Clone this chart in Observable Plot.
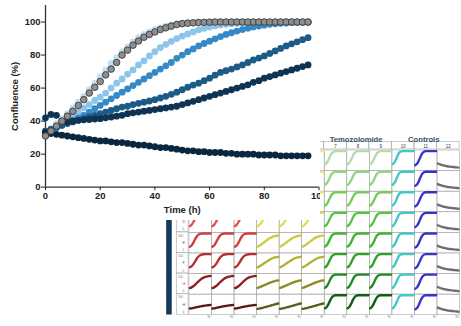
<!DOCTYPE html>
<html>
<head>
<meta charset="utf-8">
<script src="https://cdn.jsdelivr.net/npm/d3@7"></script>
<script src="https://cdn.jsdelivr.net/npm/@observablehq/plot@0.6"></script>
<style>
  html, body { margin: 0; padding: 0; background: #fff; width: 461px; height: 326px; overflow: hidden; position: relative; }
  #inset { position: absolute; left: 160px; top: 125px; z-index: 1; }
  #main { position: absolute; left: 0; top: 0; width: 320px; height: 220px; overflow: hidden; background: #fff; z-index: 2; }
</style>
</head>
<body>
<div id="inset"></div>
<div id="main"></div>
<script>
// ---------------- Main chart data ----------------
const times = [0,2,4,6,8,10,12,14,16,18,20,22,24,26,28,30,32,34,36,38,40,42,44,46,48,50,52,54,56,58,60,62,64,66,68,70,72,74,76,78,80,82,84,86,88,90,92,94,96];

const seriesLightest = [33,35.5,38.5,41.5,44.5,48,51.5,55,59,63,67,71,75,78.5,82,85,88,90.5,92.5,94,95.5,96.5,97.5,98.2,98.8,99.2,99.4,99.6,99.7,99.8,99.8,99.9,99.9,99.9,100,100,100,100,100,100,100,100,100,100,100,100,100,100,100];
const seriesLight = [33,34.5,36,38,40.5,43,45.5,48,50,52.5,54.5,57,60,63,65.5,68.5,71,74,76.5,79.5,82,84.5,86.5,88.3,90,91.5,92.8,94,95.3,96.2,97,97.7,98.2,98.6,99,99.2,99.4,99.5,99.6,99.7,99.8,99.8,99.9,99.9,100,100,100,100,100];
const seriesMedium = [34,35,36,37.5,39,40.5,42,43.5,45.5,47.5,49.5,51.5,53.5,55.5,57.5,59.5,61.5,63.5,65.5,67.5,69.5,71.5,73.5,75.5,78,80,82,83.7,85.5,87,88.4,89.8,91.2,92.5,93.5,94.5,95.4,96.3,97,97.6,98.1,98.6,98.9,99.2,99.4,99.6,99.7,99.8,99.9];
const seriesDark = [34,35,36.5,37.5,38.5,39.5,40.5,41.5,42.5,43.5,44.5,45.5,46.5,47.5,48.5,49,50,50.8,51.5,52.2,53,54,55,56.2,57.5,59,60.5,61.8,63,64.5,66,67.8,69.5,70.5,71.5,72.8,74,75.5,77,78.2,79.5,81,82.5,84,85.5,86.8,88,89.3,90.5];
const seriesNavy = [42,44,43.5,40,39.5,40,40.5,40.8,41,41.3,41.5,42,42.5,43,43.5,44.5,45,45.5,46,46.5,47,47.5,48,48.5,49,50,51,52,53,54,55,56,57,58,59,60,61,62,63.5,64.5,66,67,68,69,70,71,72,73,74];
const seriesDarkest = [33,32.5,32,31.5,31,30.5,30,29.5,29,28.5,28,28,27.5,27,27,26.5,26,25.5,25.5,25,24.5,24,24,23.5,23,22.5,22,22,21.5,21.5,21,21,21,20.5,20.5,20,20,20,20,19.5,19.5,19.5,19.5,19,19,19,19,19,19];
const seriesControl = [31,34,37,40,43,46,49.5,53,57,60.5,64,68,71.5,75.5,80,83,86,88.5,90.8,92.5,94,95.5,96.5,97.5,98.5,99,99.3,99.5,99.7,99.8,99.9,100,100,100,100,100,100,100,100,100,100,100,100,100,100,100,100,100,100];

const blueSeries = [seriesLightest, seriesLight, seriesMedium, seriesDark, seriesNavy, seriesDarkest];
const blueColors = ["#c3e0f4", "#8cc4ea", "#3489c6", "#1c5a88", "#0f3352", "#0b2740"];

const xTicks = [0, 20, 40, 60, 80, 100];
const yTicks = [0, 20, 40, 60, 80, 100];

// ---------------- Inset plate data ----------------
const plateCols = [1,2,3,4,5,6,7,8,9,10,11,12];
const plateRows = ["A","B","C","D","E","F","G","H"];
const labelRows = ["D","E","F","G","H"];
const topLabelRows = ["E","F","G","H"];
const wellTimes = [0,8,16,24,32,40,48,56,64,72,80,88,96];

const shapeGreen   = [30,38,54,74,90,97,100,100,100,100,100,100,100];
const shapeCyan    = [30,40,58,80,95,99,100,100,100,100,100,100,100];
const shapeBlue    = [25,32,48,70,88,97,100,100,100,100,100,100,100];
const shapeRedFast = [29,36,50,68,84,94,98,100,100,100,100,100,100];
const shapeRedF    = [29,34,45,60,75,87,94,97,99,100,100,100,100];
const shapeRedG    = [28,32,38,46,55,64,72,79,84,88,90,92,93];
const shapeRedH    = [29,30,32,34,36,38,40,42,43,45,46,47,48];
const shapeYelD    = [29,35,45,58,71,82,90,95,98,100,100,100,100];
const shapeYelE    = [29,34,40,47,54,61,68,74,79,83,86,88,88];
const shapeYelF    = [29,33,39,45,52,58,64,70,75,79,82,84,85];
const shapeYelG    = [29,32,36,40,44,48,52,56,60,63,66,68,69];
const shapeYelH    = [27,29,31,33,36,38,41,43,46,49,51,54,56];
const shapeGray    = [34,30,27,24,22,20,18,17,16,15,14,13,12];

const colGroup = ["red","red","red","yellow","yellow","yellow","green","green","green","cyan","blue","gray"];
const redColors    = ["#f29a9a","#ee8282","#e86a6a","#e05252","#d03c3c","#b52e2e","#8e2222","#5c1616"];
const yellowColors = ["#eeee9a","#eaea80","#e6e666","#dede52","#cccc3e","#b2b232","#8c8c26","#5c5c18"];
const greenColors  = ["#b4dcaa","#92d67e","#72ce58","#56c63e","#40b630","#2ea22a","#1e8a20","#105e14"];
const redShapes    = [shapeRedFast,shapeRedFast,shapeRedFast,shapeRedFast,shapeRedFast,shapeRedF,shapeRedG,shapeRedH];
const yellowShapes = [shapeYelD,shapeYelD,shapeYelD,shapeYelD,shapeYelE,shapeYelF,shapeYelG,shapeYelH];

const groupLabels = ["Temozolomide", "Controls"];
const groupLabelCols = [8, 11];
const barRows = ["D","E","F","G","H"];

// ---------------- Build main chart ----------------
const blueData = blueSeries.flatMap((vals, i) => vals.map((v, j) => ({t: times[j], v, color: blueColors[i]})));
const controlData = seriesControl.map((v, j) => ({t: times[j], v}));

const main = Plot.plot({
  width: 320, height: 220,
  marginLeft: 45, marginRight: 1.5, marginTop: 5, marginBottom: 33.3,
  style: {fontFamily: "Liberation Sans, Arial, sans-serif", fontSize: "9.5px", fontWeight: "bold", color: "#222", background: "white"},
  x: {domain: [0, 100]},
  y: {domain: [0, 110]},
  marks: [
    Plot.ruleX([0], {stroke: "#333", strokeWidth: 1.3}),
    Plot.ruleY([0], {stroke: "#333", strokeWidth: 1.3}),
    Plot.axisY({ticks: yTicks, tickSize: 4, tickPadding: 1, label: "Confluence (%)", labelAnchor: "center", labelArrow: "none", labelOffset: 34, fontWeight: "bold"}),
    Plot.axisX({ticks: xTicks, tickSize: 3.5, tickPadding: 2, label: "Time (h)", labelAnchor: "center", labelArrow: "none", labelOffset: 26, fontWeight: "bold"}),
    Plot.dot(blueData, {x: "t", y: "v", fill: "color", r: 3.4}),
    Plot.dot(controlData, {x: "t", y: "v", fill: "#8e8e8e", stroke: "#3a3a3a", strokeWidth: 0.9, r: 3.3})
  ]
});
document.getElementById("main").appendChild(main);

// ---------------- Build inset plate ----------------
const wells = [];
plateCols.forEach((c, ci) => {
  plateRows.forEach((r, ri) => {
    const g = colGroup[ci];
    let shape, color;
    if (g === "red") { shape = redShapes[ri]; color = redColors[ri]; }
    else if (g === "yellow") { shape = yellowShapes[ri]; color = yellowColors[ri]; }
    else if (g === "green") { shape = shapeGreen; color = greenColors[ri]; }
    else if (g === "cyan") { shape = shapeCyan; color = "#3ec8c8"; }
    else if (g === "blue") { shape = shapeBlue; color = "#3434c8"; }
    else { shape = shapeGray; color = "#6e6e6e"; }
    shape.forEach((v, k) => wells.push({col: c, row: r, well: r + c, t: wellTimes[k], v, color}));
  });
});

const gridStroke = "#a8a8a8";
const inset = Plot.plot({
  width: 307, height: 201,
  marginLeft: 26.7, marginRight: 0, marginTop: 22.3, marginBottom: 6,
  style: {fontFamily: "Liberation Sans, Arial, sans-serif", fontSize: "4.5px", color: "#333", background: "transparent"},
  fx: {domain: plateCols, padding: 0, axis: "top", label: null, tickSize: 0, tickPadding: 2},
  fy: {domain: plateRows, padding: 0, axis: null},
  x: {domain: [-4, 100], axis: null},
  y: {domain: [-4, 106], axis: null},
  marks: [
    Plot.frame({stroke: gridStroke, strokeWidth: 0.6}),
    // header boxes above row A
    Plot.rect(plateCols, {fx: d => d, fy: () => "A", x1: -4, x2: 100, y1: -4, y2: 106, insetTop: -8.3, insetBottom: 21.59, fill: "none", stroke: gridStroke, strokeWidth: 0.6}),
    // row-label column boxes
    Plot.rect(plateRows, {fx: () => 1, fy: d => d, x1: -4, x2: 100, y1: -4, y2: 106, insetLeft: -12.4, insetRight: 23.35, fill: "none", stroke: gridStroke, strokeWidth: 0.6}),
    // dark bar
    Plot.rect(barRows, {fx: () => 1, fy: d => d, x1: -4, x2: 100, y1: -4, y2: 106, insetLeft: -22.7, insetRight: 40.05, insetTop: -0.3, insetBottom: -0.3, fill: "#15395a"}),
    Plot.text(labelRows, {fx: () => 1, fy: d => d, text: d => d, frameAnchor: "left", dx: -6.5, fontSize: 3.8, fill: "#555"}),
    Plot.text(topLabelRows, {fx: () => 1, fy: d => d, text: () => "100", frameAnchor: "top-left", dx: -11.2, dy: 2.2, fontSize: 3, fill: "#777", textAnchor: "start"}),
    Plot.text(labelRows, {fx: () => 1, fy: d => d, text: () => "0", frameAnchor: "bottom-left", dx: -6.5, dy: -2, fontSize: 3, fill: "#777"}),
    Plot.text(plateCols, {fx: d => d, fy: () => "H", text: () => "96", frameAnchor: "bottom-right", dy: 3.5, dx: -1, fontSize: 3, fill: "#888"}),
    Plot.line(wells, {fx: "col", fy: "row", x: "t", y: "v", z: "well", stroke: "color", strokeWidth: 2.4, curve: "monotone-x"}),
    Plot.text(groupLabels, {fx: (d, i) => groupLabelCols[i], fy: () => "A", text: d => d, frameAnchor: "top", dy: -14, dx: -2, fontSize: 7.8, fontWeight: "bold", fill: "#34506a"})
  ]
});
document.getElementById("inset").appendChild(inset);
</script>
</body>
</html>
